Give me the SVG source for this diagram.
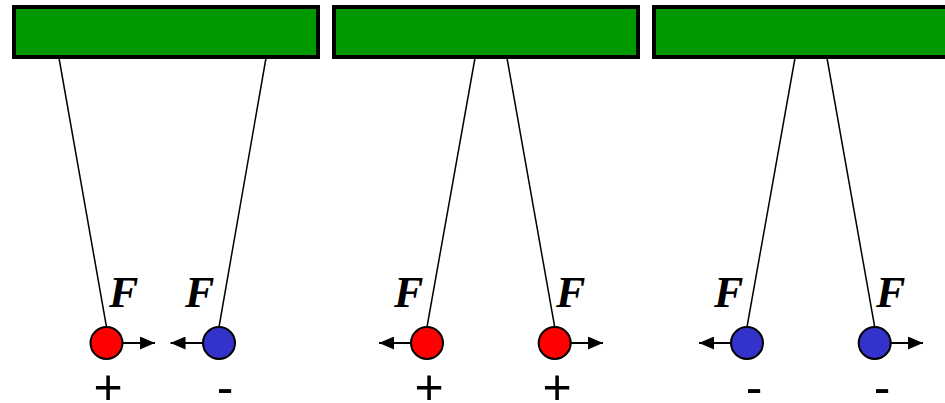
<svg xmlns="http://www.w3.org/2000/svg" width="945" height="403" viewBox="0 0 945 403">
<style>
.bar{fill:#009900;stroke:#000;stroke-width:4}
.str{stroke:#000;stroke-width:1.5;fill:none}
.arr{stroke:#000;stroke-width:2;fill:none}
.pos{fill:#ff0000;stroke:#000;stroke-width:2}
.neg{fill:#3333cc;stroke:#000;stroke-width:2}
.f{font-family:"Liberation Serif",serif;font-style:italic;font-weight:bold;font-size:44px;fill:#000}
.sign{font-family:"Liberation Sans",sans-serif;font-size:50px;fill:#000;text-anchor:middle}
</style>
<defs>
<marker id="ah" markerWidth="15" markerHeight="13" refX="15" refY="6.5" orient="auto" markerUnits="userSpaceOnUse">
<path d="M0,0 L15,6.5 L0,13 Z" fill="#000"/>
</marker>
</defs>
<g id="connectors">
<line class="str" x1="59" y1="58" x2="106.5" y2="327"/>
<line class="str" x1="266" y1="58" x2="219" y2="327"/>
<line class="str" x1="475" y1="58" x2="427" y2="327"/>
<line class="str" x1="507" y1="58" x2="554.7" y2="327"/>
<line class="str" x1="795" y1="58" x2="747" y2="327"/>
<line class="str" x1="827" y1="58" x2="874.7" y2="327"/>
<line class="arr" x1="122.5" y1="343" x2="155" y2="343" marker-end="url(#ah)"/>
<line class="arr" x1="203" y1="343" x2="170.5" y2="343" marker-end="url(#ah)"/>
<line class="arr" x1="411" y1="343" x2="379" y2="343" marker-end="url(#ah)"/>
<line class="arr" x1="570.7" y1="343" x2="603" y2="343" marker-end="url(#ah)"/>
<line class="arr" x1="731" y1="343" x2="699" y2="343" marker-end="url(#ah)"/>
<line class="arr" x1="890.7" y1="343" x2="923" y2="343" marker-end="url(#ah)"/>
</g>
<g id="bar1"><rect class="bar" x="14" y="7" width="304" height="50"/></g>
<g id="bar2"><rect class="bar" x="334" y="7" width="304" height="50"/></g>
<g id="bar3"><rect class="bar" x="654" y="7" width="304" height="50"/></g>
<g id="charge1"><circle class="pos" cx="106.5" cy="343" r="16"/><text class="f" x="109" y="307">F</text><text class="sign" x="108" y="404">+</text></g>
<g id="charge2"><circle class="neg" cx="219" cy="343" r="16"/><text class="f" x="185" y="307">F</text><text class="sign" x="225" y="404">-</text></g>
<g id="charge3"><circle class="pos" cx="427" cy="343" r="16"/><text class="f" x="394" y="307">F</text><text class="sign" x="429" y="404">+</text></g>
<g id="charge4"><circle class="pos" cx="554.7" cy="343" r="16"/><text class="f" x="556" y="307">F</text><text class="sign" x="557" y="404">+</text></g>
<g id="charge5"><circle class="neg" cx="747" cy="343" r="16"/><text class="f" x="714" y="307">F</text><text class="sign" x="754" y="404">-</text></g>
<g id="charge6"><circle class="neg" cx="874.7" cy="343" r="16"/><text class="f" x="876" y="307">F</text><text class="sign" x="882" y="404">-</text></g>
</svg>
